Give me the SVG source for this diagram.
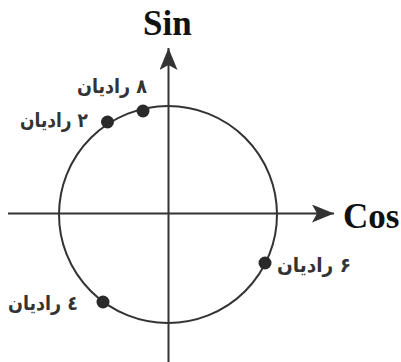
<svg xmlns="http://www.w3.org/2000/svg" width="401" height="362" viewBox="0 0 401 362">
  <style>
    .axis{stroke:#333;stroke-width:2;fill:none}
    .circle{stroke:#333;stroke-width:2;fill:none}
    .dot{fill:#2a2a2a}
    .title{font-family:"Liberation Serif",serif;font-weight:bold;font-size:35px;fill:#111}
    .lbl{font-family:"DejaVu Sans",sans-serif;font-weight:bold;font-size:20px;fill:#333;direction:rtl;text-anchor:middle}
  </style>
  <defs>
    <marker id="arr" viewBox="0 0 24 18" markerWidth="24" markerHeight="18" refX="22" refY="9" orient="auto" markerUnits="userSpaceOnUse">
      <path d="M0,0 L22,9 L0,18 L5,9 Z" fill="#333"/>
    </marker>
  </defs>
  <g id="connectors">
    <line class="axis" x1="8" y1="213.5" x2="334" y2="213.5" marker-end="url(#arr)"/>
    <line class="axis" x1="168.5" y1="362" x2="168.5" y2="48" marker-end="url(#arr)"/>
  </g>
  <g id="unit-circle">
    <ellipse class="circle" cx="168" cy="214.5" rx="109" ry="108.5"/>
  </g>
  <g id="sin-label"><text class="title" x="143" y="35">Sin</text></g>
  <g id="cos-label"><text class="title" x="343" y="228">Cos</text></g>
  <g id="p8">
    <circle class="dot" cx="143" cy="111" r="6.5"/>
    <text class="lbl" x="112" y="93" textLength="70" lengthAdjust="spacingAndGlyphs">۸ رادیان</text>
  </g>
  <g id="p2">
    <circle class="dot" cx="107.5" cy="122" r="6.5"/>
    <text class="lbl" x="54" y="127" textLength="68" lengthAdjust="spacingAndGlyphs">۲ رادیان</text>
  </g>
  <g id="p4">
    <circle class="dot" cx="103" cy="302" r="6.5"/>
    <text class="lbl" x="43" y="310" textLength="70" lengthAdjust="spacingAndGlyphs">٤ رادیان</text>
  </g>
  <g id="p6">
    <circle class="dot" cx="265" cy="263" r="6.5"/>
    <text class="lbl" x="314" y="272" textLength="74" lengthAdjust="spacingAndGlyphs">۶ رادیان</text>
  </g>
</svg>
